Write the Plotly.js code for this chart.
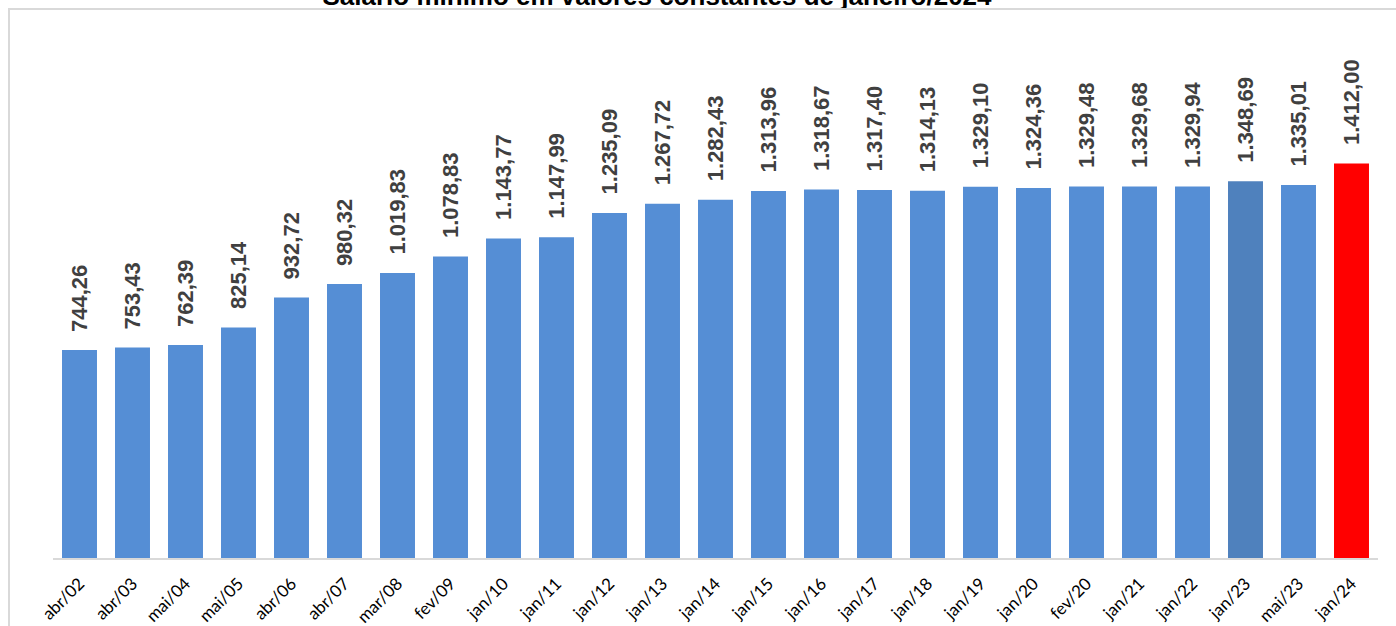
<!DOCTYPE html>
<html>
<head>
<meta charset="utf-8">
<script src="https://cdn.plot.ly/plotly-3.0.1.min.js"></script>
<style>
  html, body { margin: 0; padding: 0; background: #fff; overflow: hidden; }
  #chart { width: 1396px; height: 626px; position: relative; }
  #frame { position: absolute; left: 8px; top: 8px; width: 1500px; height: 700px;
           border-top: 2px solid #D9D9D9; border-left: 2px solid #D9D9D9; pointer-events: none; }
</style>
</head>
<body>
<div id="chart"></div>
<div id="frame"></div>
<script>
const categories = ["abr/02","abr/03","mai/04","mai/05","abr/06","abr/07","mar/08","fev/09","jan/10","jan/11",
  "jan/12","jan/13","jan/14","jan/15","jan/16","jan/17","jan/18","jan/19","jan/20","fev/20",
  "jan/21","jan/22","jan/23","mai/23","jan/24"];
const values = [744.26, 753.43, 762.39, 825.14, 932.72, 980.32, 1019.83, 1078.83, 1143.77, 1147.99,
  1235.09, 1267.72, 1282.43, 1313.96, 1318.67, 1317.40, 1314.13, 1329.10, 1324.36, 1329.48,
  1329.68, 1329.94, 1348.69, 1335.01, 1412.00];
const barColors = categories.map(function(c, i) {
  if (c === "jan/24") return "#FF0000";
  if (c === "jan/23") return "#4F81BD";
  return "#558ED5";
});
const titleText = "Salário mínimo em valores constantes de janeiro/2024";

function fmt(v) {
  const parts = v.toFixed(2).split(".");
  const intPart = parts[0].replace(/\B(?=(\d{3})+(?!\d))/g, ".");
  return intPart + "," + parts[1];
}

const trace = {
  type: "bar",
  x: categories,
  y: values,
  marker: { color: barColors, line: { width: 0 } },
  hoverinfo: "x+y"
};

const annotations = categories.map(function(c, i) {
  return {
    x: c, y: values[i], xref: "x", yref: "y",
    text: fmt(values[i]),
    textangle: -90,
    showarrow: false,
    xanchor: "center", yanchor: "bottom",
    yshift: 16,
    font: { family: "Liberation Sans, Arial, sans-serif", size: 22, color: "#404040", weight: "bold" }
  };
});

const layout = {
  width: 1396, height: 626,
  margin: { l: 53, r: 18, t: 110.5, b: 68 },
  paper_bgcolor: "rgba(0,0,0,0)",
  plot_bgcolor: "rgba(0,0,0,0)",
  bargap: 0.34,
  showlegend: false,
  title: {
    text: "<b>" + titleText + "</b>",
    font: { family: "Liberation Sans, Arial, sans-serif", size: 26, color: "#000000" },
    x: 657 / 1396, xanchor: "center", xref: "container",
    y: 1 - 5 / 626, yanchor: "bottom", yref: "container"
  },
  xaxis: {
    type: "category",
    tickangle: -45,
    tickfont: { family: "Lato, sans-serif", size: 17, color: "#000000" },
    ticklabelstandoff: 7,
    showline: true, linecolor: "#D9D9D9", linewidth: 2,
    ticks: "", showgrid: false, zeroline: false
  },
  yaxis: {
    range: [0, 1600],
    visible: false,
    showgrid: false, zeroline: false
  },
  annotations: annotations
};

Plotly.newPlot("chart", [trace], layout, { displayModeBar: false, staticPlot: true });
</script>
</body>
</html>
